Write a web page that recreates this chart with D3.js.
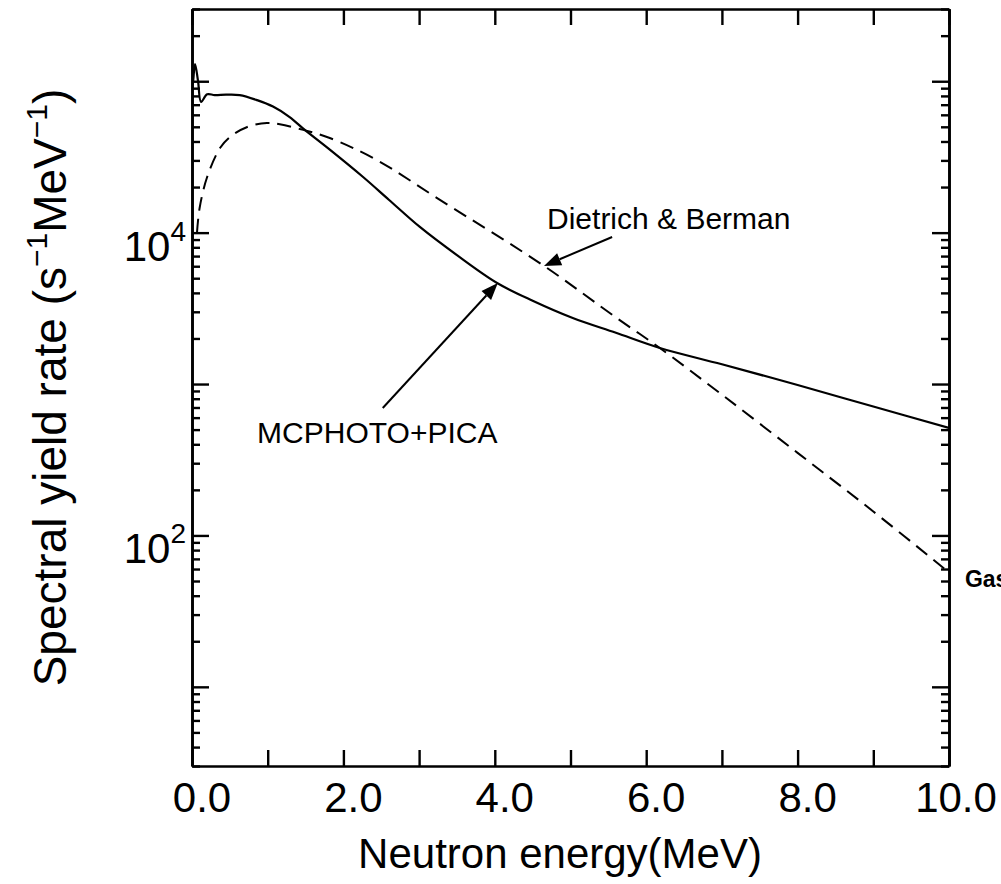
<!DOCTYPE html>
<html>
<head>
<meta charset="utf-8">
<script src="https://cdn.jsdelivr.net/npm/d3@7"></script>
<style>
  html, body { margin: 0; padding: 0; background: #fff; }
  svg { display: block; }
  text { font-family: "Liberation Sans", Arial, Helvetica, sans-serif; fill: #000; }
</style>
</head>
<body>
<svg id="chart" width="1001" height="884"></svg>
<script>
// ---- data ----
const solidEnergy = [0, 0.01, 0.04, 0.08, 0.12, 0.2, 0.3, 0.45, 0.63, 0.86, 1.07, 1.29, 1.49, 1.8, 2.26, 2.6, 3.01, 3.5, 4.03, 4.5, 5.03, 5.6, 6.18, 7.0, 8.0, 9.0, 10.0];
const solidYield  = [1.2e5, 9.5e4, 1.3e5, 1.0e5, 7.3e4, 8.2e4, 8.1e4, 8.15e4, 8.1e4, 7.5e4, 6.8e4, 5.8e4, 4.77e4, 3.6e4, 2.33e4, 1.65e4, 1.09e4, 7.1e3, 4.65e3, 3.55e3, 2.73e3, 2.18e3, 1.73e3, 1.35e3, 985, 710, 513];
const dashEnergy  = [0.066, 0.1, 0.2, 0.37, 0.5, 0.73, 0.99, 1.16, 1.47, 1.82, 2.44, 3.28, 4.65, 5.61, 6.18, 7.0, 8.0, 9.0, 10.0];
const dashYield   = [1.0e4, 1.45e4, 2.33e4, 3.62e4, 4.28e4, 4.99e4, 5.3e4, 5.2e4, 4.77e4, 4.22e4, 3.02e4, 1.64e4, 6.03e3, 2.73e3, 1.73e3, 851, 351, 144, 57];
const xTickValues = [0, 1, 2, 3, 4, 5, 6, 7, 8, 9, 10];
const xLabelValues = [0, 2, 4, 6, 8, 10];
const yMajorValues = [1e1, 1e2, 1e3, 1e4, 1e5];
const yLabelValues = [1e2, 1e4];
const yLabelExponents = ["2", "4"];
const xTitle = "Neutron energy(MeV)";
// annotations in data units: [energy, yield]
const dietrichText = { label: "Dietrich & Berman", at: [4.69, 1.06e4] };
const dietrichArrow = { from: [5.55, 9.36e3], to: [4.65, 6.03e3] };
const mcText = { label: "MCPHOTO+PICA", at: [0.86, 407] };
const mcArrow = { from: [2.52, 695], to: [4.04, 4.65e3] };
const gasText = { label: "Gas", at: [10.21, 45.6] };

// ---- layout ----
const L = 192, R = 949, T = 9, B = 766;
const svg = d3.select("#chart");
const x = d3.scaleLinear().domain([0, 10]).range([L, R]);
const y = d3.scaleLog().domain([3, 3e5]).range([B, T]);

const yMinorValues = [];
for (let e = 0; e <= 5; e++) for (let m = 2; m <= 9; m++) {
  const v = m * Math.pow(10, e);
  if (v >= 3 && v <= 3e5) yMinorValues.push(v);
}

svg.append("defs").append("clipPath").attr("id", "clip")
  .append("rect").attr("x", L).attr("y", T).attr("width", R - L).attr("height", B - T);

function styleAxis(g) {
  g.selectAll("path.domain").attr("stroke", "#000").attr("stroke-width", 2.6);
  g.selectAll(".tick line").attr("stroke", "#000").attr("stroke-width", 2.4);
  g.selectAll(".tick text").remove();
}

// bottom & top
svg.append("g").attr("transform", `translate(0,${B})`)
  .call(d3.axisBottom(x).tickValues(xTickValues).tickSizeInner(-16).tickSizeOuter(0).tickFormat(""))
  .call(styleAxis);
svg.append("g").attr("transform", `translate(0,${T})`)
  .call(d3.axisTop(x).tickValues(xTickValues).tickSizeInner(-16).tickSizeOuter(0).tickFormat(""))
  .call(styleAxis);
// left
svg.append("g").attr("transform", `translate(${L},0)`)
  .call(d3.axisLeft(y).tickValues(yMajorValues).tickSizeInner(-17).tickSizeOuter(0).tickFormat(""))
  .call(styleAxis);
svg.append("g").attr("transform", `translate(${L},0)`)
  .call(d3.axisLeft(y).tickValues(yMinorValues).tickSizeInner(-8).tickSizeOuter(0).tickFormat(""))
  .call(styleAxis);
// right
svg.append("g").attr("transform", `translate(${R},0)`)
  .call(d3.axisRight(y).tickValues(yMajorValues).tickSizeInner(-17).tickSizeOuter(0).tickFormat(""))
  .call(styleAxis);
svg.append("g").attr("transform", `translate(${R},0)`)
  .call(d3.axisRight(y).tickValues(yMinorValues).tickSizeInner(-8).tickSizeOuter(0).tickFormat(""))
  .call(styleAxis);

// x tick labels
svg.append("g").selectAll("text").data(xLabelValues).join("text")
  .attr("x", d => x(d) + (d === 10 ? 7 : 10))
  .attr("y", 812)
  .attr("text-anchor", "middle")
  .attr("font-size", 42)
  .text(d => d3.format(".1f")(d));

// y tick labels
const yl = svg.append("g").selectAll("text").data(yLabelValues).join("text")
  .attr("x", 186)
  .attr("y", d => y(d) + 28)
  .attr("text-anchor", "end")
  .attr("font-size", 42);
yl.append("tspan").text("10");
yl.append("tspan").attr("font-size", 28).attr("dy", -20).text((d, i) => yLabelExponents[i]);

// axis titles
svg.append("text")
  .attr("x", 560).attr("y", 868)
  .attr("text-anchor", "middle")
  .attr("font-size", 42)
  .text(xTitle);

const yt = svg.append("text")
  .attr("transform", `translate(66,${(T + B) / 2}) rotate(-90)`)
  .attr("text-anchor", "middle")
  .attr("font-size", 46);
yt.append("tspan").text("Spectral yield rate (s");
yt.append("tspan").attr("font-size", 30).attr("dy", -19).text("\u22121");
yt.append("tspan").attr("dy", 19).text("MeV");
yt.append("tspan").attr("font-size", 30).attr("dy", -19).text("\u22121");
yt.append("tspan").attr("dy", 19).text(")");

// curves
const line = d3.line().x(d => x(d[0])).y(d => y(d[1])).curve(d3.curveCatmullRom.alpha(0.5));
const plot = svg.append("g").attr("clip-path", "url(#clip)");
plot.append("path")
  .datum(dashEnergy.map((e, i) => [e, dashYield[i]]))
  .attr("d", line).attr("fill", "none").attr("stroke", "#000")
  .attr("stroke-width", 2).attr("stroke-dasharray", "14,8");
plot.append("path")
  .datum(solidEnergy.map((e, i) => [e, solidYield[i]]))
  .attr("d", line).attr("fill", "none").attr("stroke", "#000")
  .attr("stroke-width", 2.2);

// annotations
function arrow(a) {
  const x0 = x(a.from[0]), y0 = y(a.from[1]), x1 = x(a.to[0]), y1 = y(a.to[1]);
  const ang = Math.atan2(y1 - y0, x1 - x0);
  const hl = 17, hw = 6.5;
  const bx = x1 - hl * Math.cos(ang), by = y1 - hl * Math.sin(ang);
  svg.append("line").attr("x1", x0).attr("y1", y0).attr("x2", bx).attr("y2", by)
    .attr("stroke", "#000").attr("stroke-width", 2);
  svg.append("path")
    .attr("d", `M${x1},${y1}L${bx + hw * Math.sin(ang)},${by - hw * Math.cos(ang)}L${bx - hw * Math.sin(ang)},${by + hw * Math.cos(ang)}Z`)
    .attr("fill", "#000");
}
arrow(dietrichArrow);
arrow(mcArrow);
[dietrichText, mcText].forEach(t => {
  svg.append("text").attr("x", x(t.at[0])).attr("y", y(t.at[1]))
    .attr("font-size", 30).text(t.label);
});
svg.append("text").attr("x", x(gasText.at[0])).attr("y", y(gasText.at[1]))
  .attr("font-size", 23).attr("font-weight", "bold").text(gasText.label);
</script>
</body>
</html>
